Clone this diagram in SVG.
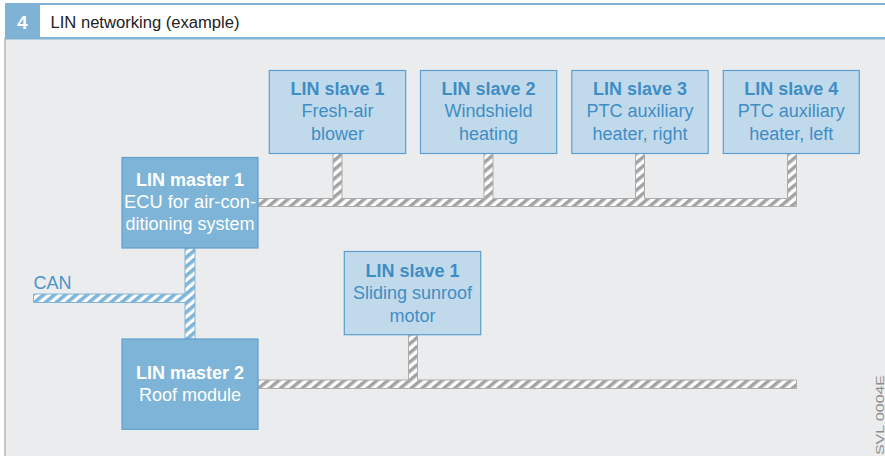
<svg xmlns="http://www.w3.org/2000/svg" width="885" height="456" viewBox="0 0 885 456">
<defs>
<pattern id="grey" patternUnits="userSpaceOnUse" width="7" height="7" patternTransform="rotate(50)">
<rect width="7" height="7" fill="#ffffff"/>
<rect width="3.5" height="7" fill="#a3a3a3"/>
</pattern>
<pattern id="blue" patternUnits="userSpaceOnUse" width="7" height="7" patternTransform="rotate(50)">
<rect width="7" height="7" fill="#ffffff"/>
<rect width="3.7" height="7" fill="#80b5d8"/>
</pattern>
<style>
.slave rect{fill:#c1daeb;stroke:#5c9fcf;stroke-width:1.2}
.master rect{fill:#7db4d7;stroke:#5f9fcd;stroke-width:1.2}
.slave text{fill:#3f8dc4;font-family:"Liberation Sans",Arial,sans-serif;font-size:18px;text-anchor:middle}
.master text{fill:#ffffff;font-family:"Liberation Sans",Arial,sans-serif;font-size:18px;text-anchor:middle}
.b{font-weight:bold}
.gbus{fill:url(#grey);stroke:#adadad;stroke-width:1}
.bbus{fill:url(#blue);stroke:#80b5d8;stroke-width:1}
</style>
</defs>
<rect x="0" y="0" width="885" height="456" fill="#ffffff"/>
<rect x="5" y="38" width="880" height="418" fill="#ebeced"/>
<rect x="4" y="38" width="2" height="418" fill="#c8c8c8"/>
<rect x="5" y="3" width="880" height="2" fill="#7fb3d5"/>
<rect x="5" y="37" width="880" height="2.5" fill="#7fb3d5"/>
<rect x="5" y="4" width="35" height="34" fill="#7fb3d5"/>
<text x="22.5" y="29" fill="#ffffff" font-family="Liberation Sans, Arial, sans-serif" font-size="18.5" font-weight="bold" text-anchor="middle">4</text>
<text x="50.5" y="28.3" fill="#222222" font-family="Liberation Sans, Arial, sans-serif" font-size="16" textLength="189" lengthAdjust="spacingAndGlyphs">LIN networking (example)</text>

<g id="connectors">
<path class="gbus" d="M258,198.5 H333 V153 H342 V198.5 H484 V153 H493 V198.5 H635.5 V153 H644.5 V198.5 H787.5 V153 H796.5 V206.5 H258 Z"/>
<path class="gbus" d="M258,380 H408.5 V335 H417.5 V380 H796.5 V388.5 H258 Z"/>
<path class="bbus" d="M185,248 H195 V339 H185 V302.5 H33.5 V294 H185 Z"/>
</g>
<text x="33.5" y="289" fill="#4a95c8" font-family="Liberation Sans, Arial, sans-serif" font-size="18">CAN</text>

<g id="master1" class="master">
<rect x="122" y="157.5" width="136" height="90.5"/>
<text x="190" y="186" class="b">LIN master 1</text>
<text x="190" y="208.3" textLength="132" lengthAdjust="spacingAndGlyphs">ECU for air-con-</text>
<text x="190" y="230.3">ditioning system</text>
</g>
<g id="master2" class="master">
<rect x="122" y="339" width="136" height="90.3"/>
<text x="190" y="379" class="b">LIN master 2</text>
<text x="190" y="401">Roof module</text>
</g>
<g id="slave1" class="slave">
<rect x="269.3" y="70.5" width="136.4" height="83"/>
<text x="337.5" y="94.5" class="b">LIN slave 1</text>
<text x="337.5" y="117">Fresh-air</text>
<text x="337.5" y="139.5">blower</text>
</g>
<g id="slave2" class="slave">
<rect x="420.5" y="70.5" width="136.2" height="83"/>
<text x="488.6" y="94.5" class="b">LIN slave 2</text>
<text x="488.6" y="117">Windshield</text>
<text x="488.6" y="139.5">heating</text>
</g>
<g id="slave3" class="slave">
<rect x="571.8" y="70.5" width="136.4" height="83"/>
<text x="640" y="94.5" class="b">LIN slave 3</text>
<text x="640" y="117">PTC auxiliary</text>
<text x="640" y="139.5">heater, right</text>
</g>
<g id="slave4" class="slave">
<rect x="723.3" y="70.5" width="136" height="83"/>
<text x="791.3" y="94.5" class="b">LIN slave 4</text>
<text x="791.3" y="117">PTC auxiliary</text>
<text x="791.3" y="139.5">heater, left</text>
</g>
<g id="slave_sunroof" class="slave">
<rect x="344.3" y="251.5" width="136.4" height="83.2"/>
<text x="412.5" y="276.7" class="b">LIN slave 1</text>
<text x="412.5" y="299.2">Sliding sunroof</text>
<text x="412.5" y="321.7">motor</text>
</g>
<text transform="translate(884.3,455) rotate(-90)" fill="#8c8c8c" font-family="Liberation Sans, Arial, sans-serif" font-size="11.6" textLength="80" lengthAdjust="spacingAndGlyphs">SVL 0004E</text>
</svg>
